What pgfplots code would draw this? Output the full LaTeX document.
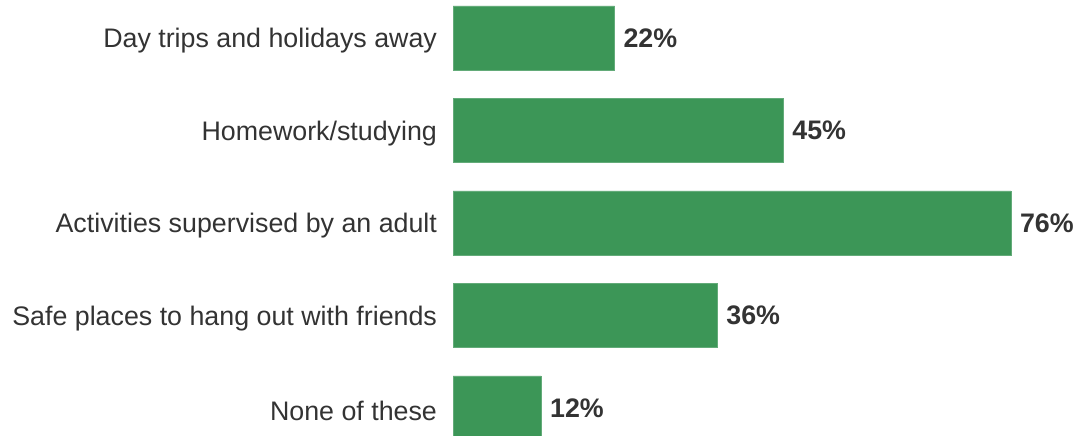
\documentclass[border=0pt]{standalone}
\usepackage{pgfplots}
\pgfplotsset{compat=1.18}
\usepackage{fontspec}
\setmainfont{Liberation Sans}
\definecolor{barg}{HTML}{3C9657}
\definecolor{txt}{HTML}{333333}
\begin{document}
\begin{tikzpicture}[x=1pt,y=1pt]
\begin{axis}[
  at={(226.5pt,0pt)}, anchor=south west,
  scale only axis,
  width=311.5pt, height=217.5pt,
  xmin=0, xmax=84.86,
  ymin=-0.41, ymax=4.292, y dir=reverse,
  axis line style={draw=none},
  major tick length=0pt,
  xtick=\empty,
  xbar, bar width=32pt,
  ytick={0,1,2,3,4},
  yticklabels={Day trips and holidays away,Homework/studying,Activities supervised by an adult,Safe places to hang out with friends,None of these},
  yticklabel style={font=\fontsize{13.4}{15}\selectfont, text=txt, xshift=-4.5pt, yshift=-1.5pt},
  clip=false,
  /pgf/number format/assume math mode=true,
  nodes near coords={\pgfmathprintnumber{\pgfplotspointmeta}\%},
  nodes near coords style={anchor=west, xshift=1pt, text=txt, font=\fontsize{13.4}{15}\selectfont\bfseries},
  point meta=x,
]
\addplot[fill=barg, draw=barg!80!white, line width=0.4pt] coordinates {(22,0) (45,1) (76,2) (36,3) (12,4)};
\end{axis}
\pgfresetboundingbox
\path (0,0) rectangle (538,217.5);
\end{tikzpicture}
\end{document}
